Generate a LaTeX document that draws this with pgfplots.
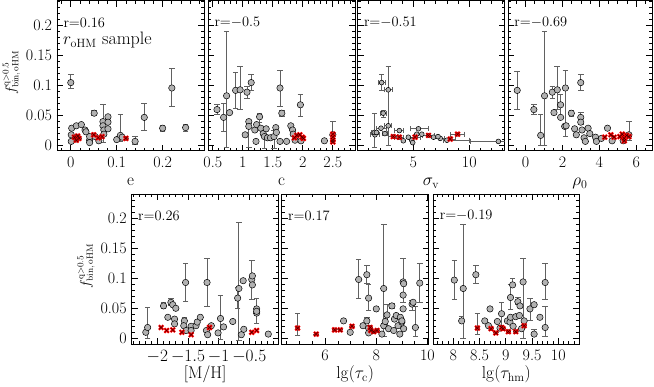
\documentclass[border=0pt]{standalone}
\usepackage{pgfplots}
\pgfplotsset{compat=1.18}
\usepackage{pgfplotstable}
\tikzset{rtxt/.style={anchor=west, inner sep=0pt, font=\fontsize{14}{15}\selectfont}}
\pgfplotsset{
  panel/.style={scale only axis, width=147pt, height=150pt, anchor=north west,
    ymin=-0.0095, ymax=0.2405, ytick={0,0.05,0.1,0.15,0.2}, minor ytick={0,0.01,...,0.24}, yticklabels={},
    tick align=inside, major tick length=6pt, minor tick length=3pt,
    every tick/.append style={black, line width=0.7pt},
    axis line style={line width=0.9pt},
    tick label style={font=\fontsize{16}{17}\selectfont},
    xticklabel style={yshift=-2.5pt},
    yticklabel style={xshift=-1.5pt},
    label style={font=\fontsize{17}{18}\selectfont},
    xlabel style={at={(axis description cs:0.5,0)}, anchor=base, yshift=-35pt},
    ylabel style={at={(axis description cs:-0.31,0.52)}, anchor=center, font=\fontsize{13.5}{14}\selectfont},
  },
  ylab/.style={yticklabels={0,0.05,0.1,0.15,0.2}, ylabel={$f^{\mathrm{q>0.5}}_{\mathrm{bin,\,oHM}}$}},
  eb/.style={only marks, mark=none, forget plot, error bars/.cd, y dir=both, y explicit,
    error bar style={black!62, line width=0.8pt},
    error mark options={rotate=90, black!62, mark size=2.8pt, line width=0.8pt}},
  ebx/.style={only marks, mark=none, forget plot, error bars/.cd, y dir=both, y explicit, x dir=both, x explicit,
    error bar style={black!62, line width=0.8pt},
    error mark options={rotate=90, black!62, mark size=2.5pt, line width=0.8pt}},
  gm/.style={only marks, mark=*, mark size=3.2pt, mark options={fill=black!30, draw=black, line width=0.5pt}},
  rm/.style={only marks, mark=x, mark size=3.2pt, mark options={red, line width=2.2pt}},
  rk/.style={only marks, mark=x, mark size=2.6pt, mark options={black!75!red, line width=0.5pt}},
}
% ---------------- panel 1: e
\pgfplotstableread{
x y ep em
0.000 0.104 0.013 0.010
0.002 0.028 0 0
0.001 0.017 0 0
0.001 0.006 0 0
0.012 0.032 0 0
0.023 0.034 0 0
0.031 0.025 0 0
0.033 0.022 0 0
0.041 0.008 0 0
0.041 0.014 0 0
0.041 0.004 0 0
0.051 0.053 0.004 0.004
0.053 0.014 0 0
0.061 0.007 0 0
0.070 0.039 0.029 0.035
0.070 0.032 0 0
0.072 0.025 0 0
0.072 0.018 0 0
0.081 0.047 0 0
0.081 0.038 0 0
0.081 0.027 0 0
0.100 0.009 0 0
0.108 0.016 0.035 0.010
0.112 0.013 0 0
0.140 0.006 0.008 0.005
0.160 0.046 0.023 0.021
0.200 0.028 0.005 0.005
0.220 0.095 0.032 0.031
0.250 0.029 0.006 0.006
}\gA
\pgfplotstableread{
x y ep em
0.008 0.013 0 0
0.012 0.008 0 0
0.018 0.011 0 0
0.015 0.015 0 0
0.050 0.017 0 0
0.060 0.012 0 0
0.068 0.014 0 0
0.120 0.011 0 0
}\rA
% ---------------- panel 2: c
\pgfplotstableread{
x y ep em
0.57 0.059 0.008 0.008
0.68 0.046 0.023 0.023
0.73 0.082 0.107 0.086
0.78 0.054 0 0
0.88 0.091 0.030 0.030
0.955 0.092 0.039 0.032
1.07 0.088 0.010 0.010
1.14 0.104 0.013 0.013
1.10 0.039 0 0
1.10 0.031 0.005 0.035
1.04 0.017 0 0
1.20 0.025 0 0
1.22 0.006 0 0
1.23 0.034 0 0
1.28 0.047 0.005 0.010
1.30 0.028 0 0
1.34 0.019 0 0
1.36 0.014 0.010 0.020
1.39 0.027 0 0
1.41 0.012 0 0
1.46 0.012 0 0
1.52 0.014 0.010 0.020
1.55 0.029 0 0
1.56 0.021 0 0
1.62 0.095 0.030 0.030
1.62 0.006 0 0
1.65 0.053 0.005 0.005
1.73 0.006 0 0
1.80 0.032 0 0
1.83 0.025 0 0
1.84 0.018 0 0
1.87 0.008 0 0
1.96 0.067 0.017 0.020
1.97 0.007 0 0
2.36 0.007 0 0
2.50 0.017 0.022 0.010
}\gB
\pgfplotstableread{
x y ep em
1.86 0.012 0 0
1.90 0.016 0 0
1.95 0.017 0 0
1.99 0.013 0 0
2.01 0.011 0 0
2.50 0.018 0 0
2.50 0.013 0 0
2.50 0.008 0 0
2.50 0.005 0 0
}\rB
% ---------------- panel 3: sigma_v
\pgfplotstableread{
x y xp xm ep em
2.16 0.104 0.30 0.30 0.013 0.013
2.75 0.092 0.40 0.30 0.039 0.092
2.30 0.053 0.25 0.25 0.005 0.007
1.56 0.017 0.40 0.40 0 0
1.50 0.021 0.30 0.30 0.031 0.025
2.10 0.028 0.45 0.45 0 0
2.45 0.019 0.20 0.20 0 0
2.75 0.032 0.30 0.30 0 0
3.74 0.024 0.40 0.40 0 0
3.65 0.013 0 0 0 0
4.85 0.008 0 0 0 0
4.94 0.004 0 0 0 0
5.45 0.027 0.90 0.70 0 0
5.30 0.018 0 0 0 0
6.80 0.013 0 0 0 0
7.40 0.011 0 0 0 0
8.00 0.008 2.00 0.30 0 0
12.6 0.006 1.00 2.50 0 0
1.70 0.021 0 0 0 0
4.10 0.007 0 0 0 0
4.55 0.013 0 0 0 0
5.75 0.018 0 0 0 0
7.20 0.014 0 0 0 0
}\gC
\pgfplotstableread{
x y xp xm ep em
3.20 0.014 0.4 0.4 0 0
3.74 0.013 0.4 0.4 0 0
5.15 0.013 0.5 0.5 0 0
6.35 0.016 0.5 0.5 0 0
8.30 0.010 0.5 0.5 0 0
8.95 0.018 0.6 0.6 0 0
}\rC
% ---------------- panel 4: rho_0
\pgfplotstableread{
x y ep em
-0.45 0.091 0.031 0.031
0.45 0.059 0.008 0.008
0.82 0.016 0.035 0.016
1.03 0.082 0.107 0.082
1.45 0.088 0.010 0.010
1.72 0.092 0.039 0.032
1.54 0.054 0 0
1.90 0.067 0.017 0.020
1.90 0.046 0 0
2.16 0.095 0.030 0.080
2.12 0.031 0 0
2.20 0.032 0 0
2.48 0.053 0.005 0.005
2.66 0.027 0 0
2.75 0.017 0 0
2.99 0.104 0.013 0.013
2.99 0.046 0.008 0.012
2.99 0.038 0 0
3.06 0.025 0 0
3.17 0.012 0 0
3.24 0.006 0 0
3.39 0.028 0 0
3.48 0.019 0 0
3.79 0.013 0 0
3.84 0.006 0 0
4.11 0.011 0 0
4.44 0.028 0 0
4.69 0.007 0 0
5.29 0.007 0 0
5.60 0.017 0.022 0.010
}\gD
\pgfplotstableread{
x y ep em
4.29 0.013 0 0
4.62 0.017 0 0
4.80 0.013 0 0
5.11 0.014 0 0
5.24 0.018 0 0
5.34 0.011 0 0
5.35 0.007 0 0
5.47 0.016 0 0
5.60 0.014 0 0
}\rD
% ---------------- panel 5: [M/H]
\pgfplotstableread{
x y ep em
-2.19 0.010 0 0
-2.16 0.018 0.034 0.018
-1.90 0.054 0.005 0.005
-1.83 0.035 0 0
-1.78 0.060 0.007 0.005
-1.75 0.056 0 0
-1.70 0.050 0 0
-1.72 0.032 0 0
-1.72 0.024 0 0
-1.56 0.029 0.005 0
-1.54 0.093 0.031 0.031
-1.57 0.021 0 0
-1.53 0.013 0 0
-1.45 0.020 0 0
-1.45 0.013 0 0
-1.37 0.021 0 0
-1.35 0.027 0 0
-1.30 0.035 0 0
-1.20 0.013 0 0
-1.19 0.093 0.040 0.040
-1.18 0.006 0 0
-1.12 0.021 0 0
-1.01 0.009 0 0
-0.97 0.033 0.038 0.035
-0.92 0.019 0 0
-0.77 0.028 0 0
-0.69 0.067 0.018 0.018
-0.67 0.083 0.110 0.087
-0.63 0.006 0 0
-0.59 0.015 0 0
-0.60 0.096 0 0
-0.46 0.098 0.031 0.033
-0.45 0.104 0 0
-0.45 0.089 0 0
-0.38 0.049 0.018 0.025
-0.38 0.042 0 0
-0.38 0.045 0 0
-0.19 0.007 0 0
}\gE
\pgfplotstableread{
x y ep em
-1.94 0.018 0 0
-1.85 0.013 0 0
-1.75 0.014 0 0
-1.60 0.010 0 0
-1.45 0.006 0 0
-1.15 0.018 0 0
-0.46 0.010 0 0
-0.38 0.013 0 0
}\rE
% ---------------- panel 6: lg tau_c
\pgfplotstableread{
x y ep em
6.72 0.029 0 0
6.98 0.010 0 0
7.31 0.098 0.033 0.031
7.48 0.021 0 0
7.63 0.106 0.015 0.015
7.63 0.029 0.006 0
7.70 0.067 0.022 0.020
7.70 0.009 0 0
7.70 0.017 0 0
8.00 0.049 0 0
8.22 0.007 0 0
8.29 0.083 0.107 0.080
8.29 0.021 0 0
8.35 0.028 0 0
8.42 0.039 0.018 0.020
8.48 0.016 0 0
8.61 0.054 0.004 0.004
8.68 0.013 0 0
8.71 0.032 0 0
8.78 0.038 0 0
8.85 0.021 0 0
8.92 0.007 0 0
8.94 0.035 0 0
9.00 0.027 0 0
9.05 0.094 0.039 0.035
9.07 0.091 0 0
9.05 0.072 0 0
9.05 0.049 0 0
9.07 0.016 0 0
9.00 0.029 0 0
9.40 0.057 0.006 0.010
9.44 0.060 0 0
9.53 0.018 0.035 0.015
9.70 0.092 0.032 0.032
}\gF
\pgfplotstableread{
x y ep em
4.92 0.017 0.024 0.012
5.65 0.007 0 0
6.37 0.014 0 0
6.59 0.014 0 0
7.05 0.020 0 0
7.76 0.018 0 0
7.79 0.013 0 0
7.90 0.011 0 0
8.03 0.013 0 0
}\rF
% ---------------- panel 7: lg tau_hm
\pgfplotstableread{
x y ep em
8.02 0.097 0.032 0.032
8.16 0.029 0.008 0
8.19 0.083 0.107 0.083
8.43 0.106 0.015 0.015
8.70 0.049 0 0
8.60 0.029 0 0
8.67 0.021 0 0
8.84 0.028 0 0
8.92 0.041 0.018 0.020
8.89 0.017 0 0
9.03 0.029 0 0
9.08 0.027 0 0
9.09 0.068 0.022 0.020
9.13 0.089 0.010 0
9.09 0.035 0 0
9.14 0.020 0 0
9.19 0.036 0 0
9.23 0.061 0.007 0.005
9.27 0.054 0 0
9.26 0.038 0 0
9.30 0.016 0 0
9.33 0.094 0.039 0.094
9.35 0.029 0 0
9.46 0.049 0.018 0.020
9.54 0.056 0 0
9.54 0.007 0.008 0
9.65 0.035 0 0
9.75 0.093 0.031 0.029
9.75 0.018 0.035 0.015
}\gG
\pgfplotstableread{
x y ep em
8.46 0.017 0.024 0.010
8.72 0.016 0 0
8.81 0.009 0 0
8.92 0.018 0 0
8.95 0.016 0 0
9.05 0.011 0 0
9.19 0.011 0 0
9.35 0.021 0 0
}\rG
\begin{document}
\begin{tikzpicture}
\useasboundingbox (0,0) rectangle (654pt,-387pt);
% panel 1
\begin{axis}[panel, ylab, at={(57pt,-0.7pt)}, xmin=-0.03, xmax=0.29,
  xtick={0,0.1,0.2}, xticklabels={0,0.1,0.2}, minor xtick={-0.02,0,...,0.28}, xlabel={e}]
\addplot[eb] table[x=x,y=y,y error plus=ep,y error minus=em]{\gA};
\addplot[eb] table[x=x,y=y,y error plus=ep,y error minus=em]{\rA};
\addplot[gm] table[x=x,y=y]{\gA};
\addplot[rm] table[x=x,y=y]{\rA};
\addplot[rk] table[x=x,y=y]{\rA};
\node[rtxt] at (rel axis cs:0.043,0.855) {$\mathrm{r{=}0.16}$};
\node[anchor=base west, inner sep=0pt, font=\fontsize{18}{19}\selectfont] at (rel axis cs:0.04,0.705) {$r_{\mathrm{oHM}}$ sample};
\end{axis}
% panel 2
\begin{axis}[panel, at={(208pt,-0.7pt)}, xmin=0.42, xmax=2.87,
  xtick={0.5,1,1.5,2,2.5}, xticklabels={0.5,1,1.5,2,2.5}, minor xtick={0.5,0.6,...,2.8}, xlabel={c}]
\addplot[eb] table[x=x,y=y,y error plus=ep,y error minus=em]{\gB};
\addplot[gm] table[x=x,y=y]{\gB};
\addplot[rm] table[x=x,y=y]{\rB};
\addplot[rk] table[x=x,y=y]{\rB};
\node[rtxt] at (rel axis cs:0.043,0.855) {$\mathrm{r{=}{-}0.5}$};
\end{axis}
% panel 3
\begin{axis}[panel, at={(357.5pt,-0.7pt)}, xmin=0, xmax=13.15,
  xtick={5,10}, xticklabels={5,10}, minor xtick={0,1,...,13}, xlabel={$\sigma_{\mathrm{v}}$}]
\addplot[ebx] table[x=x,y=y,x error plus=xp,x error minus=xm,y error plus=ep,y error minus=em]{\gC};
\addplot[ebx] table[x=x,y=y,x error plus=xp,x error minus=xm,y error plus=ep,y error minus=em]{\rC};
\addplot[gm, mark size=2.4pt] table[x=x,y=y]{\gC};
\addplot[rm] table[x=x,y=y]{\rC};
\addplot[rk] table[x=x,y=y]{\rC};
\node[rtxt] at (rel axis cs:0.043,0.855) {$\mathrm{r{=}{-}0.51}$};
\end{axis}
% panel 4
\begin{axis}[panel, at={(508pt,-0.7pt)}, width=144pt, xmin=-0.95, xmax=6.85,
  xtick={0,2,4,6}, xticklabels={0,2,4,6}, minor xtick={-0.5,0,...,6.5}, xlabel={$\rho_{0}$}]
\addplot[eb] table[x=x,y=y,y error plus=ep,y error minus=em]{\gD};
\addplot[gm] table[x=x,y=y]{\gD};
\addplot[rm] table[x=x,y=y]{\rD};
\addplot[rk] table[x=x,y=y]{\rD};
\node[rtxt] at (rel axis cs:0.043,0.855) {$\mathrm{r{=}{-}0.69}$};
\end{axis}
% panel 5
\begin{axis}[panel, ylab, at={(131.7pt,-194pt)}, xmin=-2.42, xmax=-0.02,
  xtick={-2,-1.5,-1,-0.5}, xticklabels={$-2$,$-1.5$,$-1$,$-0.5$}, minor xtick={-2.4,-2.3,...,0}, xlabel={[M/H]}]
\addplot[eb] table[x=x,y=y,y error plus=ep,y error minus=em]{\gE};
\addplot[gm] table[x=x,y=y]{\gE};
\addplot[rm] table[x=x,y=y]{\rE};
\addplot[rk] table[x=x,y=y]{\rE};
\node[rtxt] at (rel axis cs:0.043,0.855) {$\mathrm{r{=}0.26}$};
\end{axis}
% panel 6
\begin{axis}[panel, at={(281.7pt,-194pt)}, xmin=4.3, xmax=10.05,
  xtick={6,8,10}, xticklabels={6,8,10}, minor xtick={4.5,5,...,10}, xlabel={$\mathrm{lg}(\tau_{\mathrm{c}})$}]
\addplot[eb] table[x=x,y=y,y error plus=ep,y error minus=em]{\gF};
\addplot[eb] table[x=x,y=y,y error plus=ep,y error minus=em]{\rF};
\addplot[gm] table[x=x,y=y]{\gF};
\addplot[rm] table[x=x,y=y]{\rF};
\addplot[rk] table[x=x,y=y]{\rF};
\node[rtxt] at (rel axis cs:0.043,0.855) {$\mathrm{r{=}0.17}$};
\end{axis}
% panel 7
\begin{axis}[panel, at={(433.3pt,-194pt)}, width=146pt, xmin=7.62, xmax=10.4,
  xtick={8,8.5,9,9.5,10}, xticklabels={8,8.5,9,9.5,10}, minor xtick={7.7,7.8,...,10.4}, xlabel={$\mathrm{lg}(\tau_{\mathrm{hm}})$}]
\addplot[eb] table[x=x,y=y,y error plus=ep,y error minus=em]{\gG};
\addplot[eb] table[x=x,y=y,y error plus=ep,y error minus=em]{\rG};
\addplot[gm] table[x=x,y=y]{\gG};
\addplot[rm] table[x=x,y=y]{\rG};
\addplot[rk] table[x=x,y=y]{\rG};
\node[rtxt] at (rel axis cs:0.043,0.855) {$\mathrm{r{=}{-}0.19}$};
\end{axis}
\end{tikzpicture}
\end{document}
